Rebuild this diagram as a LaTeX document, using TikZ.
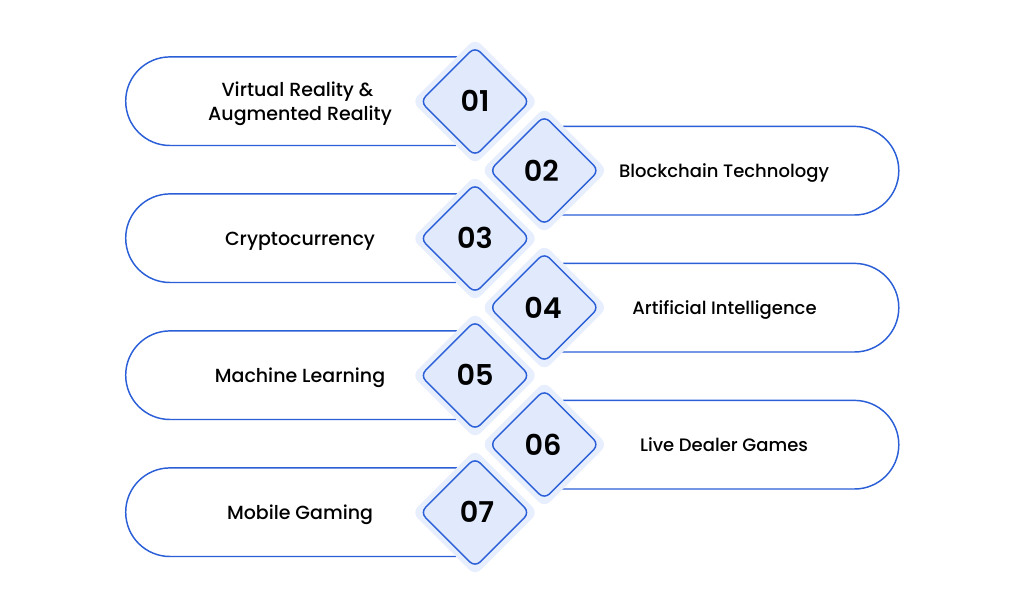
\documentclass[tikz,border=0pt]{standalone}
\usepackage{fontspec}
\setmainfont{Poppins}[UprightFont=* Medium,BoldFont=* SemiBold]
\definecolor{lineblue}{HTML}{2A5FD8}
\definecolor{halo}{HTML}{E7EEFD}
\definecolor{dfill}{HTML}{E1E9FC}
\tikzset{
  pill/.style={draw=lineblue,line width=1.1pt},
  halodia/.style={fill=halo,rounded corners=6pt},
  innerdia/.style={fill=dfill,draw=lineblue,line width=1.1pt,rounded corners=5.5pt},
  numlabel/.style={font=\bfseries\fontsize{21.5}{24}\selectfont,text=black},
  leftlabel/.style={font=\fontsize{14.25}{18}\selectfont,text=black,align=center},
  rightlabel/.style={font=\fontsize{13.5}{18}\selectfont,text=black,align=center}
}
\newcommand{\dia}[5]{%
  \path[halodia] (#1,#2-63) -- (#1+63,#2) -- (#1,#2+63) -- (#1-63,#2) -- cycle;
  \path[innerdia] (#1,#2-54.6) -- (#1+54.6,#2) -- (#1,#2+54.6) -- (#1-54.6,#2) -- cycle;
  \node[numlabel] (n#3) at (#4,#2+#5) {#3};
}
\newcommand{\lpill}[2]{%
  \draw[pill] (#2,#1-44.3) -- (170,#1-44.3)
    .. controls (145.5,#1-44.3) and (125.7,#1-24.5) .. (125.7,#1)
    .. controls (125.7,#1+24.5) and (145.5,#1+44.3) .. (170,#1+44.3)
    -- (#2-1,#1+44.3);
}
\newcommand{\rpill}[1]{%
  \draw[pill] (563,#1-44.3) -- (854.5,#1-44.3)
    .. controls (879,#1-44.3) and (898.8,#1-24.5) .. (898.8,#1)
    .. controls (898.8,#1+24.5) and (879,#1+44.3) .. (854.5,#1+44.3)
    -- (562,#1+44.3);
}
\begin{document}
\begin{tikzpicture}[x=0.75pt,y=-0.75pt]
\useasboundingbox[fill=white] (0,0) rectangle (1024,613);
\lpill{101.2}{457}
\lpill{238.2}{457}
\lpill{375.2}{457}
\lpill{512.2}{457}
\rpill{170.7}
\rpill{307.7}
\rpill{444.7}
\dia{475}{101.5}{01}{475}{-0.7}
\dia{544.3}{170.5}{02}{541.3}{0}
\dia{475}{238.5}{03}{475}{-0.7}
\dia{544.3}{307.5}{04}{543}{0}
\dia{475}{375.5}{05}{475}{-0.7}
\dia{544.3}{444.5}{06}{543}{0}
\dia{475}{512.5}{07}{477}{-0.7}
\node[leftlabel] (t1) at (300,103.5) {Virtual Reality \&\hspace*{3.75pt}\\Augmented Reality};
\node[rightlabel] (t2) at (724,173.5) {Blockchain Technology};
\node[leftlabel] (t3) at (300,241.5) {Cryptocurrency};
\node[rightlabel] (t4) at (724.5,309.5) {Artificial Intelligence};
\node[leftlabel] (t5) at (300,377.5) {Machine Learning};
\node[rightlabel] (t6) at (724,444.5) {Live Dealer Games};
\node[leftlabel] (t7) at (300,514.5) {Mobile Gaming};
\end{tikzpicture}
\end{document}
